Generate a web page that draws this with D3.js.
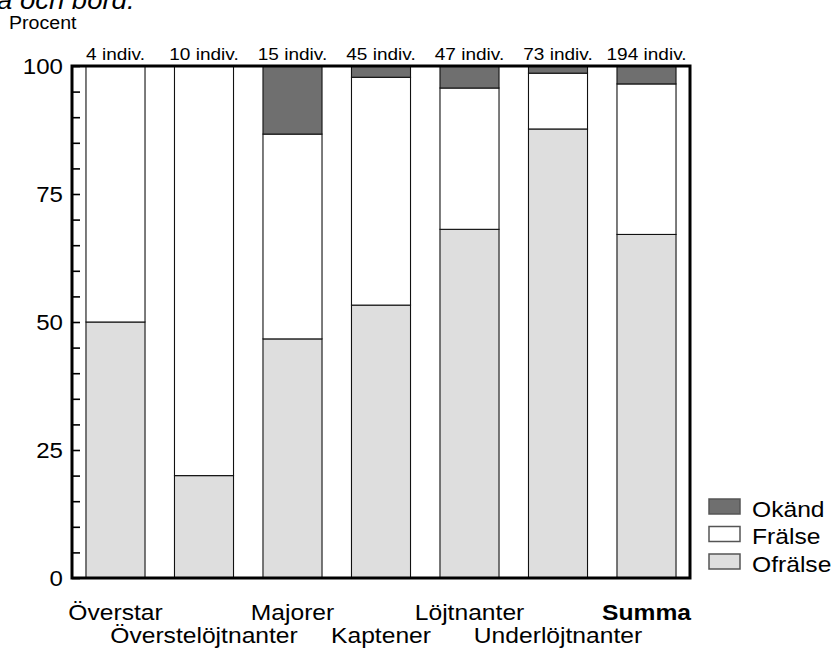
<!DOCTYPE html>
<html><head><meta charset="utf-8">
<script src="https://cdn.jsdelivr.net/npm/d3@7"></script>
<style>
body{margin:0;background:#fff;}
svg{display:block;font-family:"Liberation Sans",Arial,sans-serif;}
</style></head>
<body>
<svg id="c" width="831" height="648"></svg>
<script>
const categories = ["Överstar","Överstelöjtnanter","Majorer","Kaptener","Löjtnanter","Underlöjtnanter","Summa"];
const counts = ["4 indiv.","10 indiv.","15 indiv.","45 indiv.","47 indiv.","73 indiv.","194 indiv."];
const ofralse = [50, 20, 46.7, 53.3, 68.1, 87.7, 67.1];
const fralse  = [50, 80, 40.0, 44.5, 27.6, 10.9, 29.4];
const okand   = [0, 0, 13.3, 2.2, 4.3, 1.4, 3.5];
const seriesNames = ["Ofrälse","Frälse","Okänd"];
const seriesColors = ["#dedede","#ffffff","#6f6f6f"];
const yTicks = [0,25,50,75,100];

const SX = 1.12;
const svg = d3.select("#c");
const L = 72, R = 690, T = 66, B = 578;
const x = d3.scaleBand().domain(categories).range([L, R]).paddingInner(0.333).paddingOuter(0.158);
const y = d3.scaleLinear().domain([0,100]).range([B, T]);

const rows = categories.map((c,i)=>({cat:c, Ofrälse:ofralse[i], Frälse:fralse[i], Okänd:okand[i]}));
const stack = d3.stack().keys(seriesNames)(rows);
const color = d3.scaleOrdinal().domain(seriesNames).range(seriesColors);

// title (cut off at top, as in the source)
svg.append("text").attr("transform","translate(-3,9) scale(1.1,1)")
  .attr("font-size",25).attr("font-style","italic").text("a och bord.");
svg.append("text").attr("transform",`translate(9,29) scale(${SX},1)`)
  .attr("font-size",17.5).text("Procent");

// bars
svg.append("g").selectAll("g").data(stack).join("g")
  .attr("fill", d=>color(d.key))
  .selectAll("rect").data(d=>d.filter(s=>s[1]-s[0]>0)).join("rect")
  .attr("x", d=>x(d.data.cat))
  .attr("width", x.bandwidth())
  .attr("y", d=>y(d[1]))
  .attr("height", d=>y(d[0])-y(d[1]))
  .attr("stroke","#111").attr("stroke-width",1.1);

// frame
svg.append("rect").attr("x",L).attr("y",T).attr("width",R-L).attr("height",B-T)
  .attr("fill","none").attr("stroke","#000").attr("stroke-width",3);

// ticks (inward)
const tk = svg.append("g").attr("transform",`translate(${L},0)`)
  .call(d3.axisRight(y).tickValues(d3.range(0,101,5)).tickSize(8).tickFormat(""));
tk.select(".domain").remove();
tk.selectAll("line").attr("stroke","#000").attr("stroke-width",1.6);

// tick labels
const yl = svg.append("g").attr("transform",`translate(${L-9},0)`)
  .call(d3.axisLeft(y).tickValues(yTicks).tickSize(0).tickPadding(0));
yl.select(".domain").remove();
yl.selectAll("text").attr("font-size",21.5).attr("font-family","Liberation Sans, Arial, sans-serif")
  .attr("fill","#000").attr("x",0).attr("dy","0.36em")
  .attr("transform",`scale(${SX},1)`);

// count labels above bars
svg.append("g").selectAll("text").data(categories).join("text")
  .attr("transform",(d,i)=>`translate(${x(d)+x.bandwidth()/2},60) scale(${SX},1)`)
  .attr("text-anchor","middle").attr("font-size",17)
  .text((d,i)=>counts[i]);

// category labels (alternating rows)
const xa = svg.append("g").attr("transform",`translate(0,${B})`)
  .call(d3.axisBottom(x).tickSize(0).tickPadding(0));
xa.select(".domain").remove();
xa.selectAll("text").attr("font-size",22).attr("font-family","Liberation Sans, Arial, sans-serif")
  .attr("fill","#000").attr("dy",0).attr("y",0).attr("x",0)
  .attr("font-weight",d=>d==="Summa"?"bold":"normal")
  .attr("transform",(d,i)=>`translate(0,${i%2===0?42:65}) scale(${SX},1)`);

// legend
const legOrder = ["Okänd","Frälse","Ofrälse"];
const lg = svg.append("g").selectAll("g").data(legOrder).join("g")
  .attr("transform",(d,i)=>`translate(709,${499+i*27.5})`);
lg.append("rect").attr("width",31).attr("height",15)
  .attr("fill",d=>color(d)).attr("stroke","#555").attr("stroke-width",1.5);
lg.append("text").attr("transform",`translate(43,17.5) scale(${SX},1)`)
  .attr("font-size",22).text(d=>d);
</script>
</body></html>
